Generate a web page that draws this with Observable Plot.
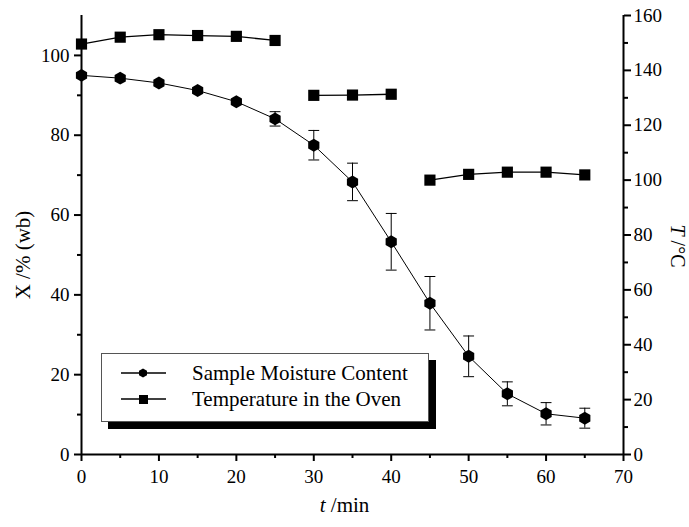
<!DOCTYPE html>
<html>
<head>
<meta charset="utf-8">
<script src="https://cdn.jsdelivr.net/npm/d3@7"></script>
<script src="https://cdn.jsdelivr.net/npm/@observablehq/plot@0.6"></script>
<style>
  html, body { margin: 0; padding: 0; background: #fff; }
  #chart { position: relative; width: 689px; height: 527px; }
  #legend {
    position: absolute; left: 101px; top: 353px; width: 326px; height: 67px;
    background: #fff; border: 1px solid #555; box-shadow: 7px 7px 0 0 #000;
    font-family: "Liberation Serif", "Times New Roman", serif;
    font-size: 21px; color: #000;
  }
  #legend .row { position: absolute; left: 0; height: 24px; display: flex; align-items: center; }
  #legend svg { display: block; }
  #legend span { position: absolute; left: 90px; white-space: nowrap; line-height: 24px; }
</style>
</head>
<body>
<div id="chart"></div>
<script>
// Drying run: sampling times (min)
const times = [0, 5, 10, 15, 20, 25, 30, 35, 40, 45, 50, 55, 60, 65];
// Sample moisture content, % wet basis, with standard deviation
const moisture = [95.0, 94.3, 93.1, 91.2, 88.4, 84.1, 77.5, 68.3, 53.3, 37.9, 24.6, 15.2, 10.2, 9.1];
const moistureErr = [0, 0, 0, 0, 0, 1.8, 3.7, 4.7, 7.1, 6.7, 5.1, 3.0, 2.8, 2.5];
// Oven temperature (°C) and the heating stage each reading belongs to
const temperature = [149.6, 152.1, 153.0, 152.7, 152.4, 150.9, 130.9, 131.0, 131.3, 100.0, 102.1, 102.9, 102.9, 101.9];
const stage = [1, 1, 1, 1, 1, 1, 2, 2, 2, 3, 3, 3, 3, 3];
// Axis ticks
const xTicks = [0, 10, 20, 30, 40, 50, 60, 70];
const xMinor = [5, 15, 25, 35, 45, 55, 65];
const yTicksLeft = [0, 20, 40, 60, 80, 100];
const yMinorLeft = [10, 30, 50, 70, 90];
const tTicks = [0, 20, 40, 60, 80, 100, 120, 140, 160];
const tMinor = [10, 30, 50, 70, 90, 110, 130, 150];

const X_MAX = 110, T_MAX = 160;
const toLeft = v => v * X_MAX / T_MAX; // temperature → left-axis units

const moistureData = times.map((t, i) => ({t, x: moisture[i], e: moistureErr[i]}));
const errData = moistureData.filter(d => d.e > 0);
const tempData = times.map((t, i) => ({t, y: toLeft(temperature[i]), stage: stage[i]}));

const serif = '"Liberation Serif", "Times New Roman", serif';
const tickStyle = {strokeWidth: 2, fontSize: 19};

const chart = Plot.plot({
  width: 689,
  height: 527,
  marginLeft: 81,
  marginRight: 66,
  marginTop: 15,
  marginBottom: 73,
  style: {fontFamily: serif, fontSize: "19px", color: "#000", background: "#fff"},
  x: {domain: [0, 70]},
  y: {domain: [0, X_MAX]},
  marks: [
    // axes
    Plot.axisX(xTicks, {tickSize: 7, tickPadding: 8, label: null, ...tickStyle}),
    Plot.axisX(xMinor, {tickSize: 4, tickFormat: () => "", label: null, strokeWidth: 2}),
    Plot.axisY(yTicksLeft, {anchor: "left", tickSize: 7, tickPadding: 5, label: null, ...tickStyle}),
    Plot.axisY(yMinorLeft, {anchor: "left", tickSize: 4, tickFormat: () => "", label: null, strokeWidth: 2}),
    Plot.axisY(tTicks.map(toLeft), {anchor: "right", tickSize: 7, tickPadding: 3, label: null,
      tickFormat: v => String(Math.round(v * T_MAX / X_MAX)), ...tickStyle}),
    Plot.axisY(tMinor.map(toLeft), {anchor: "right", tickSize: 4, tickFormat: () => "", label: null, strokeWidth: 2}),
    Plot.ruleY([0], {strokeWidth: 2}),
    Plot.ruleX([0, 70], {strokeWidth: 2}),
    // moisture error bars
    Plot.ruleX(errData, {x: "t", y1: d => d.x - d.e, y2: d => d.x + d.e, stroke: "#000", strokeWidth: 1}),
    Plot.link(errData, {x1: d => d.t - 0.7, x2: d => d.t + 0.7, y1: d => d.x + d.e, y2: d => d.x + d.e, stroke: "#000", strokeWidth: 1}),
    Plot.link(errData, {x1: d => d.t - 0.7, x2: d => d.t + 0.7, y1: d => d.x - d.e, y2: d => d.x - d.e, stroke: "#000", strokeWidth: 1}),
    // moisture curve
    Plot.line(moistureData, {x: "t", y: "x", stroke: "#000", strokeWidth: 1}),
    Plot.dot(moistureData, {x: "t", y: "x", symbol: "hexagon", r: 5.6, fill: "#000", stroke: "none"}),
    // oven temperature, one line per heating stage
    Plot.line(tempData, {x: "t", y: "y", z: "stage", stroke: "#000", strokeWidth: 1.3}),
    Plot.dot(tempData, {x: "t", y: "y", symbol: "square", r: 6.3, fill: "#000", stroke: "none"}),
    // axis titles
    Plot.text([0], {frameAnchor: "left", textAnchor: "middle", dx: -58, dy: 20, rotate: -90, fontSize: 21,
      text: () => "X /% (wb)"}),
    Plot.text([0], {frameAnchor: "right", textAnchor: "middle", dx: 54, dy: 11, rotate: 90, fontSize: 20,
      text: () => "T /\u00B0C"}),
    Plot.text([0], {frameAnchor: "bottom", textAnchor: "middle", dy: 57, dx: -8, fontSize: 21, text: () => "t /min"})
  ]
});

// serif typeface throughout; italic variable letters in the axis titles
chart.querySelectorAll("text").forEach(el => {
  el.setAttribute("font-family", serif);
  el.style.fontFamily = serif;
  const s = el.textContent;
  if (s === "T /\u00B0C" || s === "t /min") {
    const v = s[0], rest = s.slice(1);
    el.textContent = "";
    const a = document.createElementNS("http://www.w3.org/2000/svg", "tspan");
    a.setAttribute("font-style", "italic");
    a.textContent = v;
    const b = document.createElementNS("http://www.w3.org/2000/svg", "tspan");
    b.textContent = rest;
    el.appendChild(a); el.appendChild(b);
  }
});

const root = document.getElementById("chart");
root.appendChild(chart);

// legend box with drop shadow
const legend = document.createElement("div");
legend.id = "legend";
const hex = r => d3.range(6).map(k => {
  const a = Math.PI / 3 * k;
  return [r * Math.sin(a), -r * Math.cos(a)];
});
const rows = [
  {label: "Sample Moisture Content", shape: "hexagon"},
  {label: "Temperature in the Oven", shape: "square"}
];
rows.forEach((row, i) => {
  const div = document.createElement("div");
  div.className = "row";
  div.style.top = (7 + i * 26) + "px";
  const sym = row.shape === "hexagon"
    ? `<polygon points="${hex(4.6).map(p => [p[0] + 41, p[1] + 12].join(",")).join(" ")}" fill="#000"/>`
    : `<rect x="37" y="8" width="9" height="9" fill="#000"/>`;
  div.innerHTML = `<svg width="80" height="24"><line x1="19" x2="64" y1="12" y2="12" stroke="#000" stroke-width="1.3"/>${sym}</svg><span>${row.label}</span>`;
  legend.appendChild(div);
});
root.appendChild(legend);
</script>
</body>
</html>
